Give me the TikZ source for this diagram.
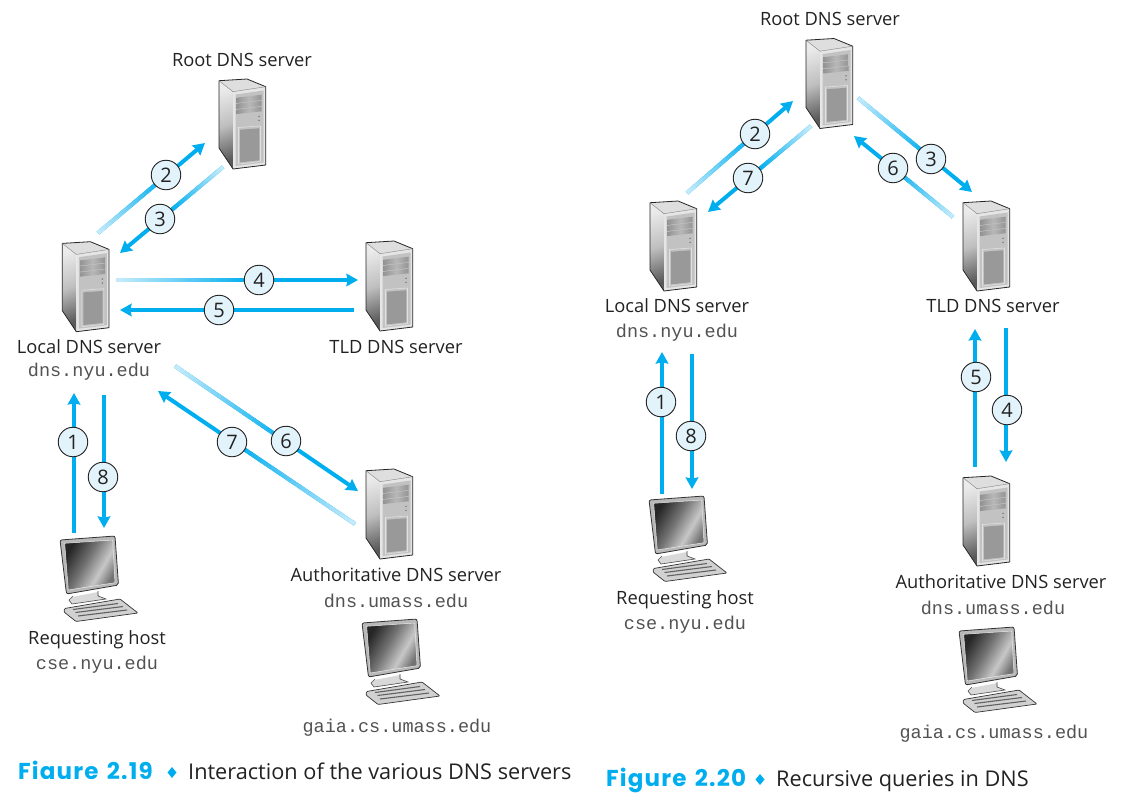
\documentclass[tikz,border=0pt]{standalone}
\usepackage{fontspec}
\setmainfont{Open Sans}
\setmonofont{Liberation Mono}
\newfontfamily\capfont[LetterSpace=5,WordSpace=1.4]{Poppins}
\usetikzlibrary{calc,arrows.meta}
\definecolor{flowblue}{HTML}{00AEEF}
\definecolor{flowpale}{HTML}{C8ECFB}
\definecolor{badgefill}{HTML}{E3F3FB}
\definecolor{inkdark}{HTML}{222222}
\pgfdeclarehorizontalshading{screenshade}{100bp}{color(0bp)=(black!85); color(25bp)=(black!85); color(45bp)=(black!55); color(62bp)=(black!22); color(75bp)=(black!55); color(100bp)=(black!55)}
\pgfdeclarehorizontalshading{sideshade}{100bp}{color(0bp)=(black!8); color(25bp)=(black!8); color(50bp)=(black!25); color(75bp)=(black!65); color(100bp)=(black!65)}
\pgfdeclarehorizontalshading{bayshade}{100bp}{color(0bp)=(black!42); color(25bp)=(black!42); color(50bp)=(black!28); color(75bp)=(black!42); color(100bp)=(black!42)}
\tikzset{
  lbl/.style={inner sep=0pt,font=\fontsize{18.3}{20}\selectfont,text=inkdark},
  addr/.style={inner sep=0pt,font=\ttfamily\fontsize{18.5}{20}\selectfont,text=black!68},
  badge/.style={circle,draw=inkdark,line width=0.9pt,fill=badgefill,minimum size=29.5pt,inner sep=0pt,font=\fontsize{20}{20}\selectfont,text=inkdark},
  flowline/.style={draw=flowblue,line width=4pt,-{Stealth[length=11.5pt,width=12.5pt,inset=1pt]}},
  capnum/.style={inner sep=0pt,anchor=base west,font=\capfont\bfseries\fontsize{23}{28}\selectfont,text=flowblue},
  captxt/.style={inner sep=0pt,anchor=base west,font=\fontsize{21.7}{24}\selectfont,text=inkdark},
  server/.pic={
    \path[shading=sideshade,shading angle=-70] (0,1.7)--(14,12.7)--(14,90)--(0,69)--cycle;
    \fill[black!13] (0,1.7)--(28,0)--(46.7,7.7)--(14,12.7)--cycle;
    \fill[black!10] (14,12.7)--(46.7,7.7)--(46.7,86)--(14,90)--cycle;
    \fill[black!24] (16.5,15.5)--(44.5,11.5)--(44.5,83.5)--(16.5,87)--cycle;
    \path[shading=bayshade] (17.7,18.7)--(42.7,15.7)--(42.7,21)--(17.7,24)--cycle;
    \path[shading=bayshade] (17.7,24.7)--(42.7,21.7)--(42.7,27)--(17.7,30)--cycle;
    \path[shading=bayshade] (17.7,30.7)--(42.7,27.7)--(42.7,32.3)--(17.7,35)--cycle;
    \fill[black!55] (40,37.3) circle (0.8) (40,41.3) circle (0.8);
    \fill[black!40] (21,50.7)--(40.3,49.3)--(40.3,81.3)--(21,83.3)--cycle;
    \draw[black!12,line width=0.6pt] (19.5,48.5)--(41.5,47)--(41.5,82.5)--(19.5,85)--cycle;
    \draw[black!85,line width=0.8pt,line join=round] (0,1.7)--(28,0)--(46.7,7.7)--(46.7,86)--(14,90)--(0,69)--cycle;
    \draw[black!50,line width=0.4pt] (0,1.7)--(14,12.7)--(46.7,7.7);
  },
  desktop/.pic={
    % keyboard
    \fill[black!18,rounded corners=1pt] (4.5,72.5)--(60,63)--(78,77)--(16,85.5)--(4,76)--cycle;
    \draw[black!80,line width=0.7pt,line join=round,rounded corners=1pt] (4.5,72.5)--(60,63)--(78,77)--(16,85.5)--(4,76)--cycle;
    \draw[black!62,line width=1.1pt] (13,73.5)--(58,67.5) (15.5,76.5)--(63,70.5) (18,80)--(67,74);
    % stand
    \fill[black!15] (12,61)--(38,56)--(39,60)--(46,63)--(12,68)--(9,65)--cycle;
    \draw[black!70,line width=0.6pt] (13,60)--(9,64)--(12,68)--(46,63)--(38,60)--(38,55);
    % frame
    \fill[black!28,rounded corners=2pt] (0,4)--(55,0)--(58.5,49)--(6.5,58)--cycle;
    \draw[black!80,line width=0.8pt,rounded corners=2pt] (0,4)--(55,0)--(58.5,49)--(6.5,58)--cycle;
    % screen
    \path[draw=black!8,line width=0.5pt,shading=screenshade,shading angle=-30]
      (4.7,7.3)--(52.7,4)--(55,46.7)--(8.3,54)--cycle;
  }
}
\newcommand{\flow}[3]{% from, to, fraction of the way that is pale
  \draw[flowline] (#1) -- (#2);
  \foreach \i in {0,...,23}{
    \pgfmathsetmacro{\ta}{#3*\i/24}
    \pgfmathsetmacro{\tb}{#3*(\i+1.3)/24}
    \pgfmathtruncatemacro{\pc}{100*(\i+0.5)/24}
    \draw[draw=flowblue!\pc!flowpale,line width=4pt] ($(#1)!\ta!(#2)$) -- ($(#1)!\tb!(#2)$);
  }
}
\newcommand{\solidflow}[2]{\draw[flowline] (#1) -- (#2);}
\begin{document}
\begin{tikzpicture}[x=1pt,y=-1pt]
\useasboundingbox (0,0) rectangle (1141,798);

% ---- servers and hosts, left figure
\pic at (219,79) {server};
\pic at (62.3,241.7) {server};
\pic at (366,241) {server};
\pic at (366,469) {server};
\pic at (60,536) {desktop};
\pic at (362,619) {desktop};
% ---- right figure
\pic at (806,38.5) {server};
\pic at (650,201) {server};
\pic at (963,201) {server};
\pic at (963,476) {server};
\pic at (649,496) {desktop};
\pic at (959,627) {desktop};

% ---- labels, left
\node[lbl] (lRoot) at (242,60) {Root DNS server};
\node[lbl] (lLocal) at (89,347) {Local DNS server};
\node[addr] (lLocalA) at (89,371.5) {dns.nyu.edu};
\node[lbl] (lTld) at (396,347) {TLD DNS server};
\node[lbl] (lHost) at (97,640) {Requesting host};
\node[addr] (lHostA) at (97,664.5) {cse.nyu.edu};
\node[lbl] (lAuth) at (396,575) {Authoritative DNS server};
\node[addr] (lAuthA) at (396,600.5) {dns.umass.edu};
\node[addr] (lGaia) at (397,727.5) {gaia.cs.umass.edu};
% ---- labels, right
\node[lbl] (rRoot) at (830,19) {Root DNS server};
\node[lbl] (rLocal) at (677,306) {Local DNS server};
\node[addr] (rLocalA) at (677,332.5) {dns.nyu.edu};
\node[lbl] (rTld) at (993,306) {TLD DNS server};
\node[lbl] (rHost) at (685,600) {Requesting host};
\node[addr] (rHostA) at (685,624.5) {cse.nyu.edu};
\node[lbl] (rAuth) at (1001,582) {Authoritative DNS server};
\node[addr] (rAuthA) at (993,607.5) {dns.umass.edu};
\node[addr] (rGaia) at (994,733.5) {gaia.cs.umass.edu};

% ---- connector ends, left
\coordinate (a2s) at (98,233);   \coordinate (a2e) at (205,143);
\coordinate (a3s) at (223,167);  \coordinate (a3e) at (120,253);
\coordinate (a4s) at (116,280);  \coordinate (a4e) at (358,280);
\coordinate (a5s) at (354,310);  \coordinate (a5e) at (120,310);
\coordinate (a6s) at (175,366);  \coordinate (a6e) at (358,491);
\coordinate (a7s) at (355,524);  \coordinate (a7e) at (158,391);
\coordinate (a1s) at (74,533);   \coordinate (a1e) at (74,393);
\coordinate (a8s) at (104,395);  \coordinate (a8e) at (104,528);
% ---- connector ends, right
\coordinate (b2s) at (687,193);  \coordinate (b2e) at (793,101);
\coordinate (b7s) at (811,126);  \coordinate (b7e) at (708,212);
\coordinate (b3s) at (858,98);   \coordinate (b3e) at (972,192);
\coordinate (b6s) at (953,217);  \coordinate (b6e) at (854,136);
\coordinate (b1s) at (662,494);  \coordinate (b1e) at (662,352);
\coordinate (b8s) at (692,354);  \coordinate (b8e) at (692,489);
\coordinate (b5s) at (975,467);  \coordinate (b5e) at (975,329);
\coordinate (b4s) at (1006,328); \coordinate (b4e) at (1006,462);

\flow{a2s}{a2e}{.6}
\flow{a3s}{a3e}{.5}
\flow{a4s}{a4e}{.55}
\solidflow{a5s}{a5e}
\flow{a6s}{a6e}{.6}
\flow{a7s}{a7e}{.6}
\solidflow{a1s}{a1e}
\solidflow{a8s}{a8e}
\flow{b2s}{b2e}{.6}
\flow{b7s}{b7e}{.5}
\flow{b3s}{b3e}{.6}
\flow{b6s}{b6e}{.6}
\solidflow{b1s}{b1e}
\solidflow{b8s}{b8e}
\solidflow{b5s}{b5e}
\solidflow{b4s}{b4e}

% ---- step badges
\node[badge] (n1) at (73,442) {1};
\node[badge] (n2) at (166,175) {2};
\node[badge] (n3) at (160,219) {3};
\node[badge] (n4) at (259,280) {4};
\node[badge] (n5) at (219,310) {5};
\node[badge] (n6) at (286,441) {6};
\node[badge] (n7) at (232,442) {7};
\node[badge] (n8) at (103,477) {8};
\node[badge] (m1) at (661,402) {1};
\node[badge] (m2) at (755,134) {2};
\node[badge] (m3) at (931,159) {3};
\node[badge] (m4) at (1007,410) {4};
\node[badge] (m5) at (976,377) {5};
\node[badge] (m6) at (893,168) {6};
\node[badge] (m7) at (748,178) {7};
\node[badge] (m8) at (691,436) {8};

% ---- captions
\begin{scope}
\clip (0,750) rectangle (600,778.5);
\node[capnum] (capA) at (18,779) {Figure 2.19};
\end{scope}
\fill[flowblue] (172,767)--(176.5,772.5)--(172,778)--(167.5,772.5)--cycle;
\node[captxt] (capAt) at (188,779) {Interaction of the various DNS servers};
\node[capnum] (capB) at (606,786) {Figure 2.20};
\fill[flowblue] (760,774)--(764.5,779.5)--(760,785)--(755.5,779.5)--cycle;
\node[captxt] (capBt) at (776,786) {Recursive queries in DNS};
\end{tikzpicture}
\end{document}
